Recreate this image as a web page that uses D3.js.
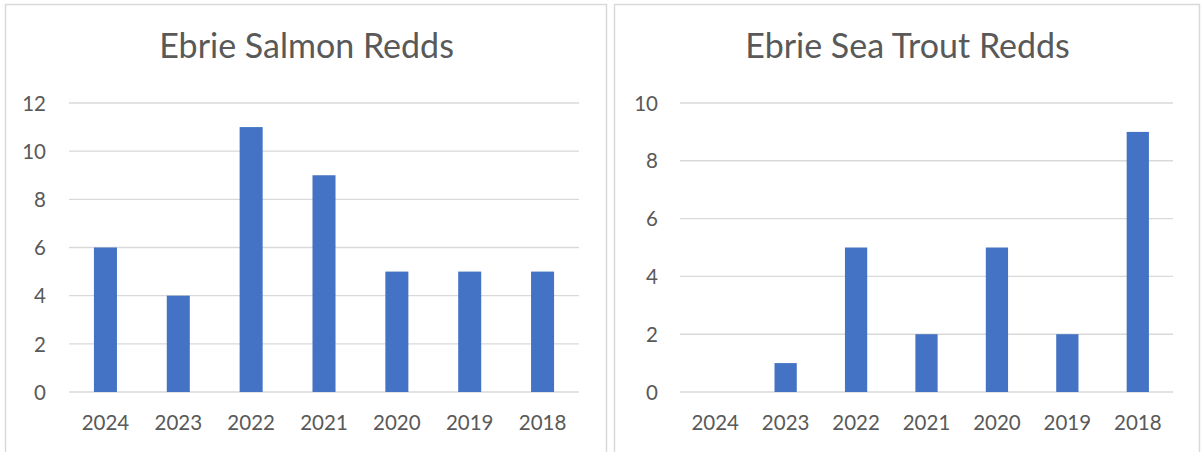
<!DOCTYPE html>
<html>
<head>
<meta charset="utf-8">
<script src="https://cdn.jsdelivr.net/npm/d3@7"></script>
<style>
  html, body { margin: 0; padding: 0; background: #ffffff; }
  svg text { font-family: Lato, "Open Sans", sans-serif; fill: #595959; }
</style>
</head>
<body>
<div id="chart"></div>
<script>
// Datos
const years = ["2024", "2023", "2022", "2021", "2020", "2019", "2018"];
const salmonRedds = [6, 4, 11, 9, 5, 5, 5];
const seaTroutRedds = [0, 1, 5, 2, 5, 2, 9];
const salmonTicks = [0, 2, 4, 6, 8, 10, 12];
const seaTroutTicks = [0, 2, 4, 6, 8, 10];

const width = 1203, height = 452;

const svg = d3.select("#chart").append("svg")
    .attr("width", width)
    .attr("height", height);

function drawPanel(opts) {
    const g = svg.append("g");

    // marco del panel
    g.append("rect")
        .attr("x", opts.x0 + 0.5)
        .attr("y", 4.5)
        .attr("width", opts.x1 - opts.x0)
        .attr("height", height + 10)
        .attr("fill", "#fff")
        .attr("stroke", "#d9d9d9")
        .attr("stroke-width", 1.5);

    // titulo
    g.append("text")
        .attr("x", (opts.x0 + opts.x1) / 2 + 1)
        .attr("y", 58)
        .attr("text-anchor", "middle")
        .style("font-size", "34px")
        .text(opts.title);

    const x = d3.scaleBand()
        .domain(years)
        .range([opts.left, opts.right])
        .paddingInner(0.684)
        .paddingOuter(0.342);

    const y = d3.scaleLinear()
        .domain([0, d3.max(opts.ticks)])
        .range([392, 103]);

    // lineas de cuadricula
    g.append("g").selectAll("line")
        .data(opts.ticks).enter().append("line")
        .attr("x1", opts.left)
        .attr("x2", opts.right)
        .attr("y1", d => y(d))
        .attr("y2", d => y(d))
        .attr("stroke", "#d9d9d9")
        .attr("stroke-width", 1.4);

    // barras
    g.append("g").selectAll("rect")
        .data(years.map((yr, i) => ({ yr, v: opts.values[i] })))
        .enter().append("rect")
        .attr("x", d => x(d.yr))
        .attr("width", x.bandwidth())
        .attr("y", d => y(d.v))
        .attr("height", d => y(0) - y(d.v))
        .attr("fill", "#4472c4");

    // eje Y
    const yAxis = g.append("g")
        .attr("transform", `translate(${opts.labelRight},0)`)
        .call(d3.axisLeft(y).tickValues(opts.ticks).tickSize(0).tickPadding(0));
    yAxis.select(".domain").remove();
    yAxis.selectAll("text")
        .attr("fill", null)
        .attr("dy", "0.35em")
        .style("font-size", "20.5px");

    // eje X
    const xAxis = g.append("g")
        .attr("transform", `translate(0,${392})`)
        .call(d3.axisBottom(x).tickSize(0).tickPadding(0));
    xAxis.select(".domain").remove();
    xAxis.selectAll("text")
        .attr("fill", null)
        .attr("dy", null)
        .attr("y", 38)
        .style("font-size", "20.5px");
}

drawPanel({
    title: "Ebrie Salmon Redds",
    values: salmonRedds,
    ticks: salmonTicks,
    x0: 5, x1: 606,
    left: 69, right: 579,
    labelRight: 46
});

drawPanel({
    title: "Ebrie Sea Trout Redds",
    values: seaTroutRedds,
    ticks: seaTroutTicks,
    x0: 614, x1: 1199,
    left: 680, right: 1173,
    labelRight: 658
});
</script>
</body>
</html>
